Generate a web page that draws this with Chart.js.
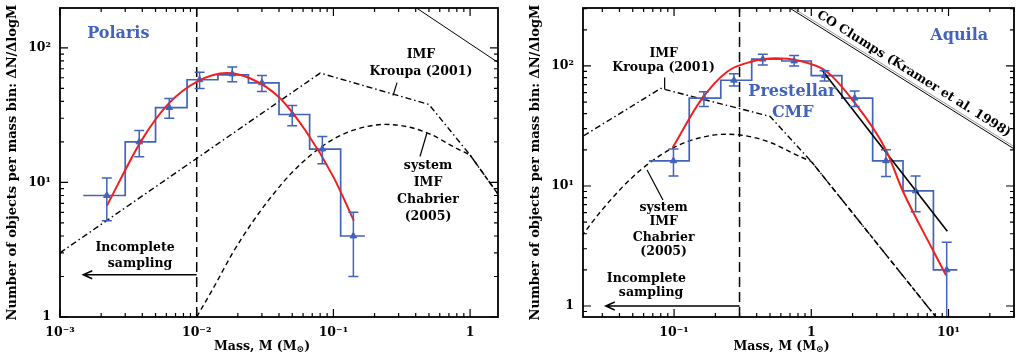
<!DOCTYPE html>
<html>
<head>
<meta charset="utf-8">
<title>Prestellar core mass functions - Polaris and Aquila</title>
<script src="https://cdn.jsdelivr.net/npm/chart.js@4.4.1/dist/chart.umd.min.js"></script>
<style>
  html, body { margin: 0; padding: 0; background: #fff; }
  #wrap { position: relative; width: 1019px; height: 357px; }
  canvas { position: absolute; top: 0; }
  #polaris { left: 0; }
  #aquila { left: 509px; }
</style>
</head>
<body>
<div id="wrap">
  <canvas id="polaris" width="509" height="357"></canvas>
  <canvas id="aquila" width="510" height="357"></canvas>
</div>
<script>
// values (mass in Msun, N = dN/dlogM)

// Polaris panel
const polarisBinEdges = [0.00148, 0.0030, 0.0050, 0.0085, 0.0143, 0.0239, 0.040, 0.067, 0.113, 0.17];
const polarisCounts = [8, 20, 36, 58, 63, 55, 32, 17.7, 4];
const polarisMass = [0.0022, 0.0038, 0.0063, 0.0105, 0.0182, 0.030, 0.050, 0.083, 0.14];
const polarisN = [8, 20, 36, 58, 64, 55, 32, 17.7, 4];
const polarisErrLo = [5.2, 15.5, 30, 50, 56, 47.5, 26.4, 13.8, 2.0];
const polarisErrHi = [10.8, 24.3, 42, 66, 72, 62.5, 37.4, 22, 6.0];
const polarisFitMass = [0.0022, 0.004, 0.0063, 0.01, 0.0166, 0.025, 0.04, 0.063, 0.1, 0.141];
const polarisFitN = [6.7, 21, 39, 56, 65, 59, 43, 24, 11, 5.2];
const polarisCoMass = [0.3, 2.0];
const polarisCoN = [243, 67];

// Aquila panel
const aquilaBinEdges = [0.0655, 0.129, 0.219, 0.368, 0.61, 1.0, 1.67, 2.8, 4.66, 7.76, 11.6];
const aquilaCounts = [16.2, 54, 76, 114, 110, 83, 54, 16.2, 9.1, 2.0];
const aquilaMass = [0.099, 0.165, 0.273, 0.443, 0.75, 1.25, 2.07, 3.5, 5.76, 9.7];
const aquilaN = [16.2, 54, 76, 114, 110, 83, 54, 16.2, 9.1, 2.0];
const aquilaErrLo = [12.1, 46, 68, 102, 100, 75, 46, 12, 6.1, 0.5];
const aquilaErrHi = [20.3, 61, 86, 125, 122, 91, 62, 20, 12.1, 3.4];
const aquilaFitMass = [0.098, 0.157, 0.245, 0.36, 0.55, 0.8, 1.29, 2.0, 3.5, 4.6, 7.6, 9.6];
const aquilaFitN = [21, 52, 90, 108, 116, 111, 90, 52, 20, 9.3, 3.0, 1.8];
const aquilaPowMass = [1.2, 9.8];
const aquilaPowN = [92, 4.2];
const aquilaCoMass = [0.5, 30];
const aquilaCoN = [385, 20.4];
const aquilaCoN2 = [402, 21.3];

// reference IMFs (same curves in both panels)
const kroupaMass = [0.001, 0.08, 0.5, 1.0, 10];
const kroupaN = [3.0, 65, 38, 16, 0.6];
const chabrierMass = [0.01, 0.0135, 0.018, 0.025, 0.035, 0.05, 0.07, 0.1, 0.15, 0.24, 0.35, 0.52, 0.75, 1.0];
const chabrierN = [1.0, 1.7, 2.9, 4.9, 7.8, 11.9, 16.3, 21, 25, 27, 25.9, 22.7, 18.5, 16];
const chabrierTailMass = [1.0, 10];
const chabrierTailN = [16, 0.6];

// axis ticks
const polarisXTicks = [0.001, 0.01, 0.1, 1];
const polarisXTickLabels = ["10\u207b\u00b3", "10\u207b\u00b2", "10\u207b\u00b9", "1"];
const aquilaXTicks = [0.1, 1, 10];
const aquilaXTickLabels = ["10\u207b\u00b9", "1", "10\u00b9"];
const yTicks = [1, 10, 100];
const yTickLabels = ["1", "10\u00b9", "10\u00b2"];

const BLUE = "#4163bb";
const RED = "#f02020";
const FONT = "'DejaVu Serif', 'Liberation Serif', serif";

Chart.defaults.font.family = FONT;
Chart.defaults.font.weight = "bold";
Chart.defaults.font.size = 12;
Chart.defaults.color = "#000";

function pts(xs, ys) {
    return xs.map((x, i) => ({ x: x, y: ys[i] }));
}

function lineSet(xs, ys, color, width, dash, order) {
    return {
        data: pts(xs, ys),
        showLine: true,
        borderColor: color,
        borderWidth: width,
        borderDash: dash || [],
        pointRadius: 0,
        fill: false,
        order: order
    };
}

function histSet(edges, counts) {
    // last edge repeats the last height so the step closes on the right
    const ys = edges.map((e, i) => counts[Math.min(i, counts.length - 1)]);
    const ds = lineSet(edges, ys, BLUE, 1.7, [], 6);
    ds.stepped = "before";
    return ds;
}

function pointSet(xs, ys) {
    return {
        data: pts(xs, ys),
        showLine: false,
        pointStyle: "triangle",
        pointRadius: 3.8,
        backgroundColor: BLUE,
        borderColor: BLUE,
        borderWidth: 1,
        order: 4
    };
}

function minorTicks(min, max) {
    const out = [];
    for (let d = Math.floor(Math.log10(min)); d <= Math.ceil(Math.log10(max)); d++) {
        for (let k = 1; k <= 9; k++) {
            const v = k * Math.pow(10, d);
            if (v >= min * 0.999 && v <= max * 1.001) out.push({ v: v, major: k === 1 });
        }
    }
    return out;
}

function extrasPlugin(p) {
    return {
        id: "extras",
        afterDatasetsDraw(chart) {
            const ctx = chart.ctx;
            const a = chart.chartArea;
            const xs = chart.scales.x, ys = chart.scales.y;
            const px = v => xs.getPixelForValue(v);
            const py = v => ys.getPixelForValue(v);

            ctx.save();
            ctx.beginPath();
            ctx.rect(a.left, a.top, a.right - a.left, a.bottom - a.top);
            ctx.clip();

            // error bars
            ctx.strokeStyle = BLUE;
            ctx.lineWidth = 1.5;
            p.mass.forEach((m, i) => {
                const x = px(m), y1 = py(p.errLo[i]), y2 = py(p.errHi[i]);
                ctx.beginPath();
                ctx.moveTo(x, y1); ctx.lineTo(x, y2);
                ctx.moveTo(x - 5, y1); ctx.lineTo(x + 5, y1);
                ctx.moveTo(x - 5, y2); ctx.lineTo(x + 5, y2);
                ctx.stroke();
            });

            // leader lines from labels to curves
            ctx.strokeStyle = "#000";
            ctx.lineWidth = 1.2;
            p.leaders.forEach(l => {
                ctx.beginPath();
                ctx.moveTo(px(l[0][0]), py(l[0][1]));
                ctx.lineTo(px(l[1][0]), py(l[1][1]));
                ctx.stroke();
            });

            // incomplete sampling arrow
            const ax0 = px(p.arrow.from), ax1 = px(p.arrow.to), ay = py(p.arrow.y);
            ctx.lineWidth = 1.5;
            ctx.beginPath();
            ctx.moveTo(ax0, ay); ctx.lineTo(ax1, ay);
            ctx.moveTo(ax1 + 9, ay - 4); ctx.lineTo(ax1, ay); ctx.lineTo(ax1 + 9, ay + 4);
            ctx.stroke();

            // text labels
            ctx.textAlign = "center";
            ctx.textBaseline = "middle";
            p.labels.forEach(l => {
                ctx.font = "bold " + (l.size || 12.5) + "px " + FONT;
                ctx.fillStyle = l.color || "#000";
                ctx.fillText(l.text, px(l.x), py(l.y));
            });

            // label along the CO clump line
            if (p.coLabel) {
                const x1 = px(p.coLabel.line[0][0]), y1 = py(p.coLabel.line[0][1]);
                const x2 = px(p.coLabel.line[1][0]), y2 = py(p.coLabel.line[1][1]);
                const ang = Math.atan2(y2 - y1, x2 - x1);
                const cx = px(p.coLabel.at);
                const cy = y1 + (cx - x1) * Math.tan(ang);
                ctx.save();
                ctx.translate(cx + Math.sin(ang) * 10, cy - Math.cos(ang) * 10);
                ctx.rotate(ang);
                ctx.font = "bold 12.5px " + FONT;
                ctx.fillStyle = "#000";
                ctx.fillText(p.coLabel.text, 0, 0);
                ctx.restore();
            }
            ctx.restore();

            // frame with inward ticks on all four sides
            ctx.save();
            ctx.strokeStyle = "#000";
            ctx.lineWidth = 1.8;
            ctx.strokeRect(a.left, a.top, a.right - a.left, a.bottom - a.top);
            ctx.lineWidth = 1.2;
            ctx.beginPath();
            minorTicks(xs.min, xs.max).forEach(t => {
                const x = px(t.v), len = t.major ? 8 : 4;
                ctx.moveTo(x, a.bottom); ctx.lineTo(x, a.bottom - len);
                ctx.moveTo(x, a.top); ctx.lineTo(x, a.top + len);
            });
            minorTicks(ys.min, ys.max).forEach(t => {
                const y = py(t.v), len = t.major ? 8 : 4;
                ctx.moveTo(a.left, y); ctx.lineTo(a.left + len, y);
                ctx.moveTo(a.right, y); ctx.lineTo(a.right - len, y);
            });
            ctx.stroke();

            // x axis title with subscript sun symbol
            const main = "Mass, M (M", sub = "\u2299", tail = ")";
            ctx.fillStyle = "#000";
            ctx.textBaseline = "middle";
            ctx.textAlign = "left";
            ctx.font = "bold 12.5px " + FONT;
            const w1 = ctx.measureText(main).width, w3 = ctx.measureText(tail).width;
            ctx.font = "bold 9px " + FONT;
            const w2 = ctx.measureText(sub).width;
            let tx = (a.left + a.right) / 2 - 17 - (w1 + w2 + w3) / 2;
            const ty = 346.5;
            ctx.font = "bold 12.5px " + FONT;
            ctx.fillText(main, tx, ty);
            ctx.font = "bold 9px " + FONT;
            ctx.fillText(sub, tx + w1, ty + 3);
            ctx.font = "bold 12.5px " + FONT;
            ctx.fillText(tail, tx + w1 + w2, ty);
            ctx.restore();
        }
    };
}

function makePanel(canvasId, p) {
    const fit = lineSet(p.fitMass, p.fitN, RED, 2, [], 2);
    fit.cubicInterpolationMode = "monotone";
    const chabrier = lineSet(chabrierMass, chabrierN, "#000", 1.4, [5, 3.5], 8);
    chabrier.cubicInterpolationMode = "monotone";
    const datasets = [
        histSet(p.edges, p.counts),
        pointSet(p.mass, p.n),
        fit,
        lineSet(kroupaMass, kroupaN, "#000", 1.4, [6, 3, 1.5, 3], 8),
        chabrier,
        lineSet(chabrierTailMass, chabrierTailN, "#000", 1.4, [5, 3.5], 8),
        lineSet([p.cut, p.cut], [p.yMin, p.yMax], "#000", 1.5, [10, 5], 8),
        lineSet(p.coMass, p.coN, "#000", 1, [], 8)
    ];
    (p.extraLines || []).forEach(d => datasets.push(d));

    return new Chart(document.getElementById(canvasId), {
        type: "scatter",
        data: { datasets: datasets },
        options: {
            responsive: false,
            animation: false,
            layout: { padding: { left: 0, right: p.padRight, top: 8, bottom: 0 } },
            plugins: { legend: { display: false }, tooltip: { enabled: false } },
            scales: {
                x: {
                    type: "logarithmic",
                    min: p.xMin,
                    max: p.xMax,
                    afterBuildTicks: s => { s.ticks = p.xTicks.map(v => ({ value: v })); },
                    afterFit: s => {
                        s.height = 40;
                        s.paddingLeft = 0; s.paddingRight = 0;
                        s.paddingTop = 0; s.paddingBottom = 0;
                    },
                    grid: { display: false, drawTicks: false },
                    border: { display: false },
                    ticks: {
                        autoSkip: false,
                        maxRotation: 0,
                        padding: 8,
                        font: { size: 12.5 },
                        callback: (v, i) => p.xTickLabels[i]
                    }
                },
                y: {
                    type: "logarithmic",
                    min: p.yMin,
                    max: p.yMax,
                    afterBuildTicks: s => { s.ticks = yTicks.map(v => ({ value: v })); },
                    afterFit: s => {
                        s.width = p.yWidth;
                        s.paddingLeft = 0; s.paddingRight = 0;
                        s.paddingTop = 0; s.paddingBottom = 0;
                    },
                    grid: { display: false, drawTicks: false },
                    border: { display: false },
                    ticks: {
                        padding: 9,
                        font: { size: 12.5 },
                        callback: (v, i) => yTickLabels[i]
                    },
                    title: {
                        display: true,
                        text: "Number of objects per mass bin: \u0394N/\u0394logM",
                        font: { size: 13, weight: "bold" },
                        padding: { top: p.titlePad, bottom: 0 }
                    }
                }
            }
        },
        plugins: [extrasPlugin(p)]
    });
}

makePanel("polaris", {
    edges: polarisBinEdges, counts: polarisCounts,
    mass: polarisMass, n: polarisN, errLo: polarisErrLo, errHi: polarisErrHi,
    fitMass: polarisFitMass, fitN: polarisFitN,
    coMass: polarisCoMass, coN: polarisCoN,
    cut: 0.01,
    xMin: 0.001, xMax: 1.6, yMin: 1, yMax: 198,
    xTicks: polarisXTicks, xTickLabels: polarisXTickLabels,
    yWidth: 60, padRight: 11, titlePad: 5,
    arrow: { from: 0.01, to: 0.00148, y: 2.06 },
    leaders: [
        [[0.273, 44.2], [0.292, 55.2]],
        [[0.43, 15.6], [0.484, 23.4]]
    ],
    labels: [
        { text: "Polaris", x: 0.00267, y: 128, size: 16, color: BLUE },
        { text: "IMF", x: 0.437, y: 89 },
        { text: "Kroupa (2001)", x: 0.437, y: 66.7 },
        { text: "system", x: 0.492, y: 13.3 },
        { text: "IMF", x: 0.492, y: 9.96 },
        { text: "Chabrier", x: 0.492, y: 7.45 },
        { text: "(2005)", x: 0.492, y: 5.57 },
        { text: "Incomplete", x: 0.00354, y: 3.28 },
        { text: "sampling", x: 0.00385, y: 2.49 }
    ]
});

makePanel("aquila", {
    edges: aquilaBinEdges, counts: aquilaCounts,
    mass: aquilaMass, n: aquilaN, errLo: aquilaErrLo, errHi: aquilaErrHi,
    fitMass: aquilaFitMass, fitN: aquilaFitN,
    coMass: aquilaCoMass, coN: aquilaCoN,
    cut: 0.3,
    xMin: 0.0217, xMax: 30, yMin: 0.81, yMax: 304,
    xTicks: aquilaXTicks, xTickLabels: aquilaXTickLabels,
    yWidth: 74, padRight: 1, titlePad: 19,
    extraLines: [
        lineSet(aquilaPowMass, aquilaPowN, "#000", 1.6, [], 3),
        lineSet(aquilaCoMass, aquilaCoN2, "#999", 1, [], 8)
    ],
    arrow: { from: 0.3, to: 0.0318, y: 1.0 },
    leaders: [
        [[0.0854, 64], [0.0854, 80]],
        [[0.083, 7.64], [0.0636, 13.6]]
    ],
    coLabel: { text: "CO Clumps (Kramer et al. 1998)", line: [[0.5, 385], [30, 20.4]], at: 5.1 },
    labels: [
        { text: "Aquila", x: 11.97, y: 179, size: 16, color: BLUE },
        { text: "Prestellar", x: 0.729, y: 61, size: 16, color: BLUE },
        { text: "CMF", x: 0.733, y: 40.3, size: 16, color: BLUE },
        { text: "IMF", x: 0.084, y: 127.6 },
        { text: "Kroupa (2001)", x: 0.084, y: 95.7 },
        { text: "system", x: 0.084, y: 6.64 },
        { text: "IMF", x: 0.084, y: 5.04 },
        { text: "Chabrier", x: 0.084, y: 3.74 },
        { text: "(2005)", x: 0.084, y: 2.84 },
        { text: "Incomplete", x: 0.0629, y: 1.70 },
        { text: "sampling", x: 0.068, y: 1.30 }
    ]
});
</script>
</body>
</html>
